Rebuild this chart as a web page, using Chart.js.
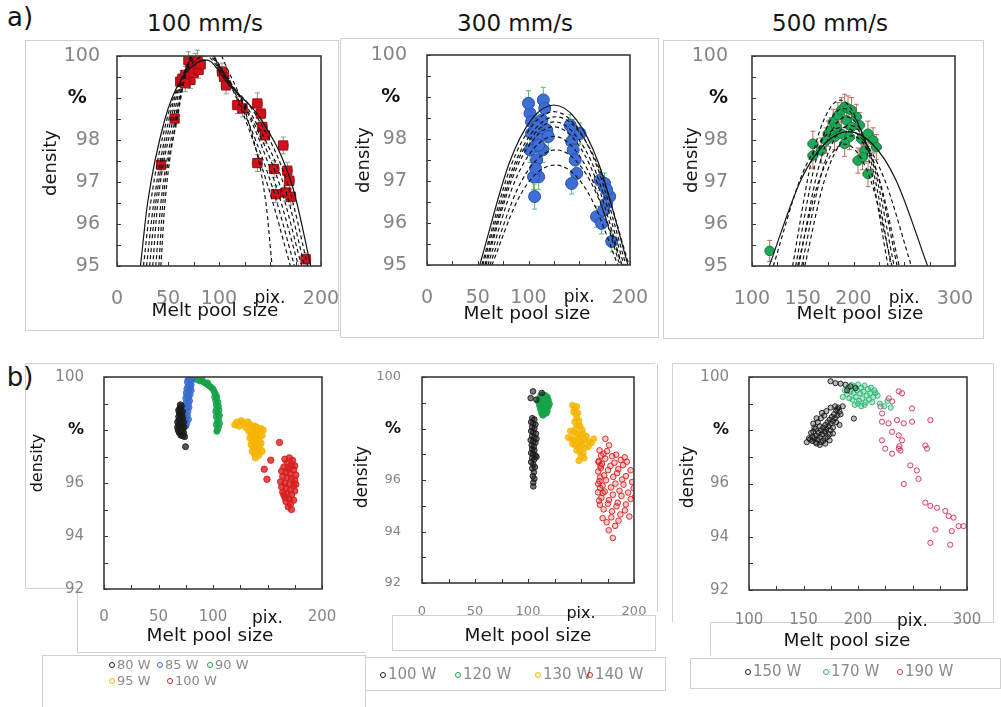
<!DOCTYPE html>
<html><head><meta charset="utf-8">
<script src="https://cdn.jsdelivr.net/npm/chart.js@4.4.1/dist/chart.umd.min.js"></script>
<style>
html,body{margin:0;padding:0;background:#fff;width:1001px;height:707px;overflow:hidden;font-family:"DejaVu Sans",sans-serif;position:relative;}
.t{position:absolute;white-space:nowrap;color:#151515;line-height:1.15;}
.lg{position:absolute;white-space:nowrap;color:#8a8a8a;line-height:1;}
.mk{position:absolute;width:4px;height:4px;border-radius:50%;border:1px solid #999;}
</style></head><body>
<svg width="1001" height="707" style="position:absolute;left:0;top:0" fill="none" stroke="#d0d0d0" stroke-width="1">
<rect x="25.5" y="40.5" width="313" height="290"/>
<rect x="340.5" y="38.5" width="318" height="299"/>
<rect x="663.5" y="40.5" width="320" height="298"/>
<polyline points="655,363.5 25.5,363.5 25.5,588.5 77.5,588.5 77.5,652.5 365,652.5"/>
<rect x="42.5" y="655.5" width="323" height="52"/>
<polyline points="657.5,363.5 657.5,612"/>
<rect x="392.5" y="615.5" width="263" height="35"/>
<rect x="365.5" y="657.5" width="300" height="33"/>
<polyline points="672.5,622 672.5,363.5 993.5,363.5 993.5,622.5 710.5,622.5 710.5,655"/>
<rect x="690.5" y="658.5" width="310" height="30"/>
</svg>
<script>
// ---------------- DATA ----------------
// Top row (a): mean points [x, y, xErr, yErr] and fitted curves
const a1_points = [[43.3,97.41,4,0.15],[56.5,98.51,4,0.2],[62,99.39,4,0.2],[64,99.45,4,0.2],[67,99.55,4,0.2],[72,99.74,4,0.2],[72,99.43,4,0.2],[75,99.6,4,0.2],[77,99.86,4,0.2],[80,99.67,4,0.2],[70,99.9,4,0.2],[79,99.94,4,0.2],[82,99.8,4,0.2],[67,99.35,4,0.2],[103,99.63,5,0.2],[105,99.5,5,0.2],[107,99.3,5,0.2],[118,98.83,5,0.2],[123,98.75,5,0.2],[137.6,98.87,5,0.25],[141,98.63,5,0.2],[142.5,98.31,5,0.2],[145,98.11,5,0.2],[137.6,97.45,5,0.2],[163,97.87,5,0.2],[154,97.31,5,0.2],[167,97.27,5,0.2],[169,97.03,5,0.2],[155.7,96.71,5,0.2],[165.5,96.75,5,0.2],[170.4,96.65,5,0.2],[185,95.16,5,0.15]];
const a1_curves = [
 [[23,95],[30,96.5],[47,98.5],[62,99.4],[88,99.9],[110,99.3],[141,98.5],[172,96.9],[190,95]],
 [[26,95],[33,96.5],[49,98.5],[63,99.45],[87,100.0],[108,99.4],[136,98.6],[168,96.9],[187,95]],
 [[29,95],[36,96.5],[51,98.5],[64,99.5],[86,100.1],[106,99.5],[132,98.6],[164,96.9],[184,95]],
 [[32,95],[38,96.5],[53,98.5],[65,99.55],[85,100.2],[104,99.6],[128,98.7],[160,96.9],[181,95]],
 [[35,95],[40,96.5],[55,98.5],[66,99.6],[84,100.3],[102,99.7],[125,98.8],[156,96.9],[178,95]],
 [[38,95],[43,96.5],[57,98.5],[67,99.6],[83,100.35],[100,99.8],[122,98.8],[152,96.9],[174,95]],
 [[41,95],[45,96.5],[59,98.5],[68,99.65],[82,100.4],[99,99.8],[119,98.9],[148,96.9],[170,95]],
 [[43,95],[47,96.5],[59,98.6],[70,99.8],[88,100.5],[110,99.6],[128,98.5],[146,96.5],[152,95]]
];
const a2_points = [[101.5,98.61,4,0.3],[103,98.41,4,0.3],[105,98.13,4,0.3],[106,97.82,4,0.3],[108,97.5,4,0.3],[110,97.1,4,0.3],[106,96.63,4,0.3],[114.6,98.93,4,0.3],[116,98.73,4,0.3],[113,98.45,4,0.3],[111,98.06,4,0.3],[114,97.74,4,0.3],[118,98.21,4,0.3],[119.5,98.06,4,0.3],[103,98.13,4,0.3],[101.5,97.74,4,0.3],[105,97.1,4,0.3],[100,98.85,4,0.3],[108,98.3,4,0.3],[110,97.85,4,0.3],[107,97.3,4,0.3],[141,98.33,4,0.25],[144,98.21,4,0.25],[142.5,97.94,4,0.25],[144,97.74,4,0.25],[147.5,97.18,4,0.25],[142.5,96.94,4,0.25],[150.7,98.13,4,0.25],[146,97.5,4,0.25],[170.4,97.02,4,0.25],[175,96.94,4,0.25],[180,96.63,4,0.25],[177,96.47,4,0.25],[167,96.15,4,0.25],[172,95.99,4,0.25],[182,95.56,4,0.25],[177,96.79,4,0.25],[174,96.3,4,0.25]];
const a2_curves = [
 [[52,95],[81.2,97.44],[103.1,98.47],[125,98.81],[146.9,98.47],[168.8,97.44],[198,95]],
 [[54,95],[82.4,97.34],[103.7,98.32],[125,98.65],[146.3,98.32],[167.6,97.34],[196,95]],
 [[55,95],[83.8,97.26],[105.4,98.21],[127,98.53],[148.6,98.21],[170.2,97.26],[199,95]],
 [[57,95],[84.1,97.18],[105,98.1],[125.5,98.41],[146,98.1],[166.9,97.18],[194,95]],
 [[58,95],[84.8,97.11],[104.9,97.99],[125,98.29],[145.1,97.99],[165.2,97.11],[192,95]],
 [[60,95],[86,96.96],[105.5,97.78],[125,98.06],[144.5,97.78],[164,96.96],[190,95]],
 [[62,95],[88,96.75],[107.5,97.49],[127,97.74],[146.5,97.49],[166,96.75],[192,95]],
 [[64,95],[88.8,96.52],[107.4,97.17],[126,97.38],[144.6,97.17],[163.2,96.52],[188,95]]
];
const a3_points = [[117.4,95.36,3,0.25],[160,97.91,5,0.3],[160,97.63,5,0.3],[168.3,97.75,5,0.3],[175,98.15,5,0.3],[180,98.43,5,0.3],[181.4,98.07,5,0.3],[184.7,98.59,5,0.3],[188,98.71,5,0.3],[191.3,98.79,5,0.3],[194.6,98.75,5,0.3],[198,98.71,5,0.3],[193,98.47,5,0.3],[188,98.15,5,0.3],[198,98.31,5,0.3],[202.8,98.55,5,0.3],[206,98.35,5,0.3],[207.7,98.03,5,0.3],[204.4,97.51,5,0.3],[211,97.75,5,0.3],[214.3,98.15,5,0.3],[219.2,97.99,5,0.3],[222.5,97.83,5,0.3],[214.3,97.19,5,0.3],[173,97.99,5,0.3],[178,98.23,5,0.3],[183,98.31,5,0.3],[196,98.07,5,0.3],[209,97.59,5,0.3],[191.3,97.91,5,0.3]];
const a3_curves = [
 [[117,95],[148.2,97.05],[171.6,97.91],[195,98.2],[218.4,97.91],[241.8,97.05],[273,95]],
 [[121,95],[148.2,97.11],[168.6,98.0],[189,98.3],[209.4,98.0],[229.8,97.11],[257,95]],
 [[140,95],[158.8,97.53],[172.9,98.59],[187,98.95],[201.1,98.59],[215.2,97.53],[234,95]],
 [[143,95],[161.8,97.4],[175.9,98.41],[190,98.75],[204.1,98.41],[218.2,97.4],[237,95]],
 [[146,95],[164.8,97.27],[178.9,98.23],[193,98.55],[207.1,98.23],[221.2,97.27],[240,95]],
 [[149,95],[167.8,97.14],[181.9,98.05],[196,98.35],[210.1,98.05],[224.2,97.14],[243,95]],
 [[152,95],[170.6,96.98],[184.6,97.82],[198.5,98.1],[212.5,97.82],[226.4,96.98],[245,95]],
 [[145,95],[163.6,96.86],[177.6,97.64],[191.5,97.9],[205.5,97.64],[219.4,96.86],[238,95]]
];

// Bottom row (b): individual measurements [x, y]
const b1_80W = [[70,98.95],[71,98.9],[69.5,98.8],[70.5,98.75],[72,98.7],[69,98.65],[70,98.6],[71.5,98.55],[68.5,98.5],[70,98.45],[72,98.45],[69,98.4],[71,98.35],[67.5,98.3],[70,98.3],[73,98.3],[68.5,98.2],[70.5,98.2],[72,98.15],[67.5,98.1],[69.5,98.1],[71.5,98.05],[73.5,98.1],[68,98.0],[70,97.95],[72,97.95],[69,97.9],[71,97.85],[73,97.9],[70.5,97.8],[72.5,97.78],[74.8,97.37],[74,97.75],[68.5,98.75],[71,98.0]];
const b1_85W = [[78,100],[80,99.95],[77,99.9],[79,99.85],[81,99.9],[76.5,99.8],[78.5,99.75],[80,99.7],[77,99.65],[79,99.6],[76,99.55],[78,99.5],[80,99.5],[75.5,99.4],[77.5,99.4],[79,99.35],[76,99.3],[78,99.25],[75,99.2],[77,99.15],[78.5,99.1],[75.5,99.05],[77.5,99.0],[74.5,98.95],[76.5,98.9],[78,98.85],[75,98.8],[77,98.7],[74.5,98.6],[76.5,98.55],[75.5,98.45],[77.5,98.4],[74.5,98.35],[76,98.25],[75,98.15]];
const b1_90W = [[80,99.97],[82,99.95],[84,99.92],[86,99.9],[88,99.85],[89.5,99.88],[91,99.82],[92.5,99.78],[94,99.75],[95.5,99.7],[97,99.65],[98.5,99.6],[100,99.55],[101,99.45],[102,99.38],[103,99.3],[101.5,99.25],[103.5,99.2],[102.5,99.1],[104.5,99.05],[103,98.95],[105,98.9],[103.5,98.8],[105.5,98.75],[102.5,98.7],[104.5,98.6],[106,98.55],[103,98.5],[105,98.4],[104,98.3],[106,98.25],[103,98.2],[105,98.1],[104,98.0],[103.5,97.95],[95,99.78],[90,99.9]];
const b1_95W = [[120,98.2],[122,98.3],[124,98.15],[126,98.35],[128,98.25],[130,98.1],[132,98.3],[134,98.2],[136,98.05],[138,98.15],[140,98.1],[142,98.0],[144,98.05],[146,98.0],[133,97.95],[135,97.85],[137,97.9],[139,97.8],[141,97.85],[143,97.75],[145,97.8],[134,97.7],[136,97.6],[138,97.65],[140,97.55],[142,97.6],[144,97.5],[135,97.45],[137,97.35],[139,97.4],[141,97.3],[143,97.35],[136,97.2],[138,97.1],[140,97.15],[142,97.05],[139,96.95],[145,97.2]];
const b1_100W = [[161,97.53],[153,96.86],[147,96.52],[149.5,96.14],[166,96.9],[170,96.95],[173,96.85],[168,96.75],[172,96.7],[175,96.65],[165,96.6],[169,96.55],[174,96.5],[163,96.45],[167,96.4],[171,96.35],[176,96.3],[164,96.25],[168,96.2],[172,96.15],[175,96.1],[162,96.05],[166,96.0],[170,95.95],[174,95.9],[163,95.85],[167,95.8],[171,95.75],[175,95.7],[164,95.65],[168,95.6],[172,95.55],[166,95.45],[170,95.4],[174,95.35],[167,95.3],[171,95.2],[169,95.1],[172,95.0],[165,95.55],[170,96.6],[176,95.95]];

const b2_100W = [[104.7,99.44],[102.5,99.18],[107.9,99.12],[113,99.38],[104,98.4],[106,98.35],[103,98.25],[105,98.2],[107,98.15],[104,98.05],[106,98.0],[103,97.9],[105,97.85],[107.5,97.8],[104,97.7],[106,97.65],[102.5,97.55],[105,97.5],[107,97.45],[103.5,97.35],[105.5,97.3],[104,97.2],[106,97.15],[103,97.05],[105,97.0],[107,96.95],[104,96.85],[106,96.8],[103,96.7],[105,96.6],[106.5,96.5],[104,96.45],[105.5,96.3],[104.5,96.15],[106,96.05],[105,95.9],[105,95.75],[108,97.6],[108,96.9]];
const b2_120W = [[112,99.25],[114,99.3],[116,99.28],[118,99.22],[111,99.15],[113,99.18],[115,99.12],[117,99.15],[119,99.1],[110,99.05],[112,99.0],[114,99.05],[116,98.98],[118,99.0],[120,98.95],[111,98.9],[113,98.85],[115,98.88],[117,98.82],[119,98.85],[112,98.75],[114,98.7],[116,98.72],[118,98.68],[113,98.6],[115,98.58],[117,98.6],[114,98.52]];
const b2_130W = [[142,98.9],[144,98.8],[146,98.85],[143,98.65],[145,98.55],[147,98.6],[146,98.4],[148,98.3],[144,98.25],[147,98.15],[149,98.1],[145,98.0],[151,97.95],[140,97.9],[143,97.85],[146,97.8],[149,97.75],[152,97.8],[155,97.7],[138,97.65],[141,97.6],[144,97.55],[147,97.6],[150,97.5],[153,97.55],[157,97.5],[160,97.45],[142,97.4],[145,97.35],[148,97.3],[151,97.35],[154,97.25],[157,97.3],[146,97.15],[149,97.1],[152,97.05],[150,96.9],[153,96.85],[148,96.75],[162,97.6]];
const b2_140W = [[173,97.6],[176.5,97.35],[167.5,97.15],[171.2,97.02],[174.6,97.12],[179.3,96.92],[183.1,96.98],[187.4,96.78],[191.2,96.88],[166.8,96.74],[169.7,96.62],[172.9,96.83],[177.8,96.55],[181.6,96.67],[185.2,96.42],[189.6,96.58],[193.3,96.71],[196.8,96.38],[166.2,96.33],[168.6,96.46],[171.8,96.18],[175.5,96.38],[180.4,96.12],[184.1,96.27],[188.7,96.02],[192.4,96.15],[198.2,95.92],[167.4,95.96],[170.3,95.78],[173.6,95.99],[178.2,95.71],[182.5,95.86],[186.3,95.58],[190.1,95.82],[194.5,95.51],[199.7,95.68],[166.1,95.52],[169.2,95.31],[172.4,95.55],[176.3,95.22],[180.1,95.43],[184.6,95.12],[188.2,95.38],[192.3,95.05],[196.9,95.26],[201,95.35],[167.8,95.04],[171.3,94.86],[175.4,95.08],[179.2,94.78],[183.5,94.98],[187.1,94.66],[191.4,94.82],[195.6,94.58],[170.4,94.52],[174.2,94.36],[178.6,94.55],[182.2,94.22],[185.3,94.42],[180,93.75],[176.1,94.05],[166.3,95.85],[166.5,96.7],[168,96.1],[168,95.7],[169,96.95],[167,95.2],[170.5,95.5],[168.5,96.55]];

const b3_150W = [[174.8,99.84],[179.4,99.77],[184,99.75],[188.5,99.71],[193.1,99.65],[197.7,99.58],[196.2,98.44],[190,99.5],[182,98.85],[180,98.75],[183,98.7],[178,98.6],[181,98.55],[176,98.5],[179,98.45],[174,98.4],[177,98.35],[172,98.3],[175,98.25],[170,98.2],[173,98.15],[168,98.1],[171,98.05],[166,98.0],[169,97.95],[164,97.9],[167,97.85],[162,97.8],[165,97.75],[160,97.7],[163,97.65],[158,97.6],[161,97.55],[156,97.65],[168,97.6],[172,97.75],[165,98.15],[170,97.95],[175,98.0],[159,97.95],[157,97.9],[160,98.1],[163,98.3],[166,98.45],[169,98.55],[162,97.5],[166,97.55],[170,97.7],[174,97.85],[177,98.1],[180,98.3],[184,98.6],[158,97.75],[155,97.7],[181,98.8],[179,98.9],[165,97.45],[170,97.5],[174,97.62],[177,97.88],[183,98.2],[159,98.25],[162,98.45],[167,98.65],[171,98.72],[175,98.85],[161,98.05],[186,98.9],[153,97.55]];
const b3_170W = [[188,99.5],[191,99.6],[194,99.7],[197,99.65],[200,99.72],[203,99.6],[206,99.68],[209,99.55],[212,99.6],[215,99.5],[190,99.35],[193,99.45],[196,99.4],[199,99.5],[202,99.38],[205,99.45],[208,99.3],[211,99.38],[214,99.25],[218,99.3],[192,99.2],[195,99.15],[198,99.25],[201,99.1],[204,99.2],[207,99.05],[210,99.15],[213,99.05],[197,98.95],[200,99.0],[203,98.9],[206,98.95],[220,99.0],[224,98.9],[227,99.1],[230,98.85],[186,99.25],[216,99.4]];
const b3_190W = [[237.4,99.46],[240.4,99.39],[228.2,99.2],[231.3,99.08],[220.6,98.89],[222.1,98.63],[222,98.32],[228,98.26],[235.8,98.38],[242,98.26],[249.6,98.32],[249.6,98.82],[231.3,97.94],[237.4,97.81],[240.4,97.62],[222,97.62],[225,97.31],[231.3,97.12],[237.4,97.31],[239,97.24],[238,97.4],[266.4,98.38],[261.8,97.43],[263.3,97.31],[248,96.68],[254,96.49],[255.5,96.17],[242,95.98],[261.8,95.28],[266.4,95.16],[272.5,95.09],[280.1,94.97],[283.2,94.78],[287.7,94.72],[292.3,94.4],[296.9,94.4],[286,94.21],[271,94.27],[284.6,93.7],[266.4,93.77]];

// Tick / series labels
const legend1 = ['80 W','85 W','90 W','95 W','100 W'];
const legend2 = ['100 W','120 W','130 W','140 W'];
const legend3 = ['150 W','170 W','190 W'];
const titles = ['100 mm/s','300 mm/s','500 mm/s'];

// ---------------- RENDERING ----------------
const C = {blk:'#1a1a1a', blue:'#3a6ccc', green:'#17a34a', green2:'#2bb673', yel:'#f5b400', red:'#d81e1e', red2:'#d0305a'};

function txt(s, cx, cy, size, extra){
  const d=document.createElement('div'); d.className='t'; d.textContent=s;
  d.style.left=cx+'px'; d.style.top=cy+'px'; d.style.fontSize=size+'px';
  d.style.transform='translate(-50%,-50%)'+(extra&&extra.rot?' rotate(-90deg)':'');
  document.body.appendChild(d);
}
function lg(s, left, cy, size, color){
  const m=document.createElement('div'); m.className='mk';
  m.style.left=(left-8)+'px'; m.style.top=(cy-3)+'px'; m.style.borderColor=color;
  document.body.appendChild(m);
  const d=document.createElement('div'); d.className='lg'; d.textContent=s;
  d.style.left=left+'px'; d.style.top=(cy-size*0.55)+'px'; d.style.fontSize=size+'px';
  document.body.appendChild(d);
}

const framePlugin = {
  id:'frame',
  afterDraw(chart){
    const {ctx, chartArea:a, scales:{x,y}} = chart;
    ctx.save();
    ctx.strokeStyle='#333'; ctx.lineWidth=1;
    x.ticks.forEach(t=>{const px=Math.round(x.getPixelForValue(t.value))+0.5; ctx.beginPath(); ctx.moveTo(px,a.bottom); ctx.lineTo(px,a.bottom-4); ctx.stroke();});
    y.ticks.forEach(t=>{const py=Math.round(y.getPixelForValue(t.value))+0.5; ctx.beginPath(); ctx.moveTo(a.left,py); ctx.lineTo(a.left+4,py); ctx.stroke();});
    ctx.lineWidth=1.6; ctx.strokeStyle='#3a3a3a';
    ctx.strokeRect(a.left, a.top, a.right-a.left, a.bottom-a.top);
    ctx.restore();
  }
};
const errPlugin = {
  id:'errbars',
  beforeDatasetsDraw(chart){
    const {ctx, chartArea:a, scales:{x,y}} = chart;
    ctx.save();
    ctx.beginPath(); ctx.rect(a.left, a.top-8, a.right-a.left, a.bottom-a.top+8); ctx.clip();
    chart.data.datasets.forEach(ds=>{
      if(!ds.errColor) return;
      ctx.strokeStyle=ds.errColor; ctx.lineWidth=1;
      ds.data.forEach(p=>{
        const px=x.getPixelForValue(p.x), py=y.getPixelForValue(p.y);
        const x0=x.getPixelForValue(p.x-p.xe), x1=x.getPixelForValue(p.x+p.xe);
        const y0=y.getPixelForValue(p.y-p.ye), y1=y.getPixelForValue(p.y+p.ye);
        ctx.beginPath();
        ctx.moveTo(x0,py); ctx.lineTo(x1,py);
        ctx.moveTo(px,y0); ctx.lineTo(px,y1);
        ctx.moveTo(x0,py-2); ctx.lineTo(x0,py+2);
        ctx.moveTo(x1,py-2); ctx.lineTo(x1,py+2);
        ctx.moveTo(px-2.5,y0); ctx.lineTo(px+2.5,y0);
        ctx.moveTo(px-2.5,y1); ctx.lineTo(px+2.5,y1);
        ctx.stroke();
      });
    });
    ctx.restore();
  }
};

function panel(g, xr, yr, datasets, fs){
  const yw=70, pt=16, pr=26, xh=46;
  const W=yw+(g.R-g.L)+pr, H=pt+(g.B-g.T)+xh;
  const cv=document.createElement('canvas');
  cv.width=W; cv.height=H;
  cv.style.cssText=`position:absolute;left:${g.L-yw}px;top:${g.T-pt}px;width:${W}px;height:${H}px;`;
  document.body.appendChild(cv);
  const lab = c => (c.tick && c.tick.label) ? String(c.tick.label).trim() : '';
  const tickColor = c => { const l=lab(c); return (l==='%'||l==='pix.') ? '#111' : '#858585'; };
  const tickFont = c => {
    const l=lab(c);
    if (l==='%') return {family:'DejaVu Sans', size:fs.pct, weight:'bold'};
    if (l==='pix.') return {family:'DejaVu Sans', size:fs.pix, weight:'normal'};
    return {family:'DejaVu Sans', size:fs.n, weight:'normal'};
  };
  new Chart(cv, {
    type:'scatter',
    data:{datasets},
    options:{
      responsive:false, animation:false, devicePixelRatio:1,
      layout:{padding:{left:0, top:pt, right:pr, bottom:0}},
      plugins:{legend:{display:false}, tooltip:{enabled:false}},
      scales:{
        x:{type:'linear', min:xr.min, max:xr.max, border:{display:false}, grid:{display:false},
           ticks:{stepSize:xr.step, autoSkip:false, maxRotation:0, minRotation:0, padding:xr.pad,
             callback:v=> v===xr.pix ? 'pix.' : (v%50===0 ? String(v) : ''),
             color:tickColor, font:tickFont},
           afterFit(s){ s.height=xh; s.paddingLeft=0; s.paddingRight=0; s.paddingTop=0; s.paddingBottom=0; }},
        y:{type:'linear', min:yr.min, max:yr.max, border:{display:false}, grid:{display:false},
           ticks:{stepSize:yr.step, autoSkip:false, padding:yr.pad,
             callback:v=>{ const r=Math.round(v); if(Math.abs(v-r)>1e-6) return ''; if(r===yr.pct) return '%'+yr.pctPad; if((r-yr.min)%yr.lab!==0) return ''; return String(r); },
             color:tickColor, font:tickFont},
           afterFit(s){ s.width=yw; s.paddingLeft=0; s.paddingRight=0; s.paddingTop=0; s.paddingBottom=0; }}
      }
    },
    plugins:[framePlugin, errPlugin]
  });
}

function ptsDS(arr, style, radius, fill, border, errColor){
  return {data:arr.map(p=>({x:p[0], y:p[1], xe:p[2], ye:p[3]})), pointStyle:style, pointRadius:radius,
    backgroundColor:fill, borderColor:border, borderWidth:1, errColor, order:2};
}
function curveDS(curves){
  return curves.map((c,i)=>({data:c.map(p=>({x:p[0],y:p[1]})), showLine:true, pointRadius:0, borderColor:'#151515',
    borderWidth:1.2, borderDash: i===0?[]:[4,3], cubicInterpolationMode:'monotone', clip:0, order:1}));
}
function scatDS(arr, color, fillA, r){
  return {data:arr.map(p=>({x:p[0],y:p[1]})), pointStyle:'circle', pointRadius:r||2.6, borderWidth:0.9,
    borderColor:color, backgroundColor:fillA, order:2};
}

const fsA = {n:19, pix:17, pct:19};
const fsB1 = {n:15, pix:17, pct:16};
const fsB2 = {n:13, pix:16, pct:16};
const fsB3 = {n:15, pix:17, pct:16};

panel({L:117,T:56,R:321,B:266}, {min:0,max:200,step:25,pix:150,pad:14}, {min:95,max:100,step:0.5,pct:99,lab:1,pad:9,pctPad:'  '},
  [ptsDS(a1_points,'rect',6.5,'#d4101c','#9a0a10','#8a9a8a'), ...curveDS(a1_curves)], fsA);
panel({L:427,T:55,R:630,B:265}, {min:0,max:200,step:25,pix:150,pad:14}, {min:95,max:100,step:0.5,pct:99,lab:1,pad:12,pctPad:' '},
  [ptsDS(a2_points,'circle',6,'#3f6fd6','#2a52b0','#5dbb6a'), ...curveDS(a2_curves)], fsA);
panel({L:752,T:56,R:955,B:266}, {min:100,max:300,step:25,pix:250,pad:14}, {min:95,max:100,step:0.5,pct:99,lab:1,pad:16,pctPad:''},
  [ptsDS(a3_points,'circle',4.8,'#1ea85a','#138043','#b07060'), ...curveDS(a3_curves)], fsA);

panel({L:104,T:377,R:322,B:589}, {min:0,max:200,step:25,pix:150,pad:11}, {min:92,max:100,step:1,pct:98,lab:2,pad:12,pctPad:''},
  [scatDS(b1_80W,C.blk,'rgba(30,30,30,0.75)',3), scatDS(b1_85W,C.blue,'rgba(58,108,204,0.8)',3), scatDS(b1_90W,C.green,'rgba(23,163,74,0.8)',3),
   scatDS(b1_95W,C.yel,'rgba(245,180,0,0.85)',3.2), scatDS(b1_100W,C.red,'rgba(216,30,30,0.8)',3.2)], fsB1);
panel({L:422,T:377,R:634,B:583}, {min:0,max:200,step:25,pix:150,pad:13}, {min:92,max:100,step:1,pct:98,lab:2,pad:13,pctPad:''},
  [scatDS(b2_100W,C.blk,'rgba(30,30,30,0.6)',2.8), scatDS(b2_120W,C.green,'rgba(23,163,74,0.9)',3.2),
   scatDS(b2_130W,C.yel,'rgba(245,180,0,0.8)',3), scatDS(b2_140W,C.red,'rgba(216,30,30,0.25)',2.8)], fsB2);
panel({L:749,T:377,R:967,B:590}, {min:100,max:300,step:25,pix:250,pad:13}, {min:92,max:100,step:1,pct:98,lab:2,pad:12,pctPad:''},
  [scatDS(b3_150W,C.blk,'rgba(30,30,30,0.3)'), scatDS(b3_170W,C.green2,'rgba(43,182,115,0.35)'), scatDS(b3_190W,C.red2,'rgba(208,48,90,0.08)')], fsB3);

// Text
txt('a)', 20, 18, 26); txt('b)', 20, 378, 26);
txt(titles[0], 205, 23, 23); txt(titles[1], 515, 23, 23); txt(titles[2], 830, 23, 23);
[[50,163,18],[363,160,18],[691,160,18],[37,463,16],[362,477,17],[688,477,17]].forEach(p=>txt('density',p[0],p[1],p[2],{rot:true}));
[[215,310],[527,313],[860,313],[210,635],[528,635],[847,640]].forEach(p=>txt('Melt pool size',p[0],p[1],18.5));

// Legends
lg(legend1[0],117,665,13,C.blk); lg(legend1[1],165,665,13,C.blue); lg(legend1[2],215,665,13,C.green);
lg(legend1[3],117,681,13,C.yel); lg(legend1[4],175,681,13,C.red);
lg(legend2[0],388,675,15,C.blk); lg(legend2[1],463,675,15,C.green); lg(legend2[2],543,675,15,C.yel); lg(legend2[3],595,675,15,C.red);
lg(legend3[0],753,672,15,C.blk); lg(legend3[1],831,672,15,C.green2); lg(legend3[2],905,672,15,C.red2);
</script>
</body></html>
